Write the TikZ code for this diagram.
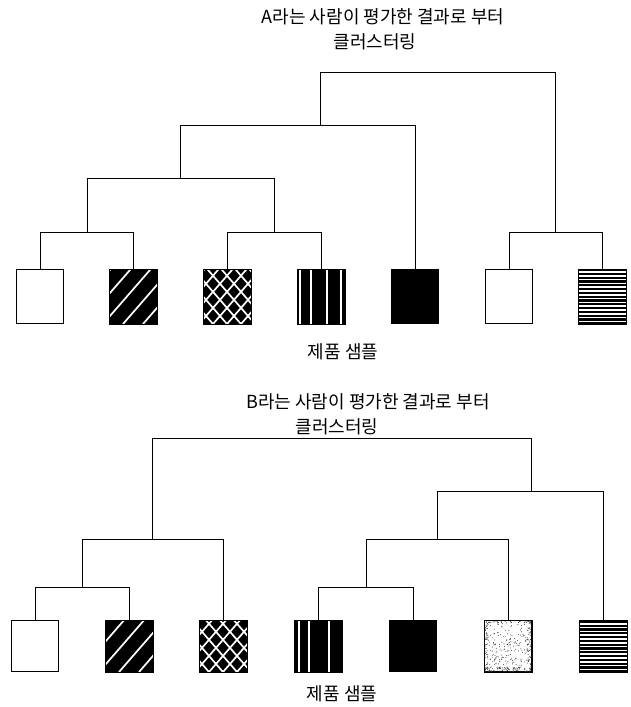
\documentclass[tikz,border=0pt]{standalone}
\usepackage{fontspec}
\setmainfont{Noto Sans CJK KR}
% Fill patterns, drawn inside a named sample box (local units: pt, y upwards)
\newcommand\boxpattern[2]{%
  \begin{scope}
    \clip (#1.south west) rectangle (#1.north east);
    \begin{scope}[shift={(#1.south west)},x=1pt,y=1pt]
      #2
    \end{scope}
  \end{scope}
  \draw[line width=1pt] (#1.south west) rectangle (#1.north east);}
\newcommand\diaglines{%
  \foreach \k in {-66,-46,...,54}
    \draw[white, line width=1.7pt] (\k,0) -- ++(60,69);}
\newcommand\crosslines{%
  \foreach \k in {-74,-60,...,124} {
    \draw[white, line width=1.7pt] (\k,0) -- ++(60,69);
    \draw[white, line width=1.7pt] (\k,0) -- ++(-60,69);
  }}
\newcommand\vlines[1]{%
  \foreach \k in {#1}
    \draw[white, line width=1.3pt] (\k,-2) -- (\k,60);}
\newcommand\hlines{%
  \foreach \k in {2.6,6.4,...,52}
    \draw[white, line width=1.5pt] (-2,\k) -- (50,\k);}
\newcommand\specks{%
  \pgfmathsetseed{11}
  \foreach \i in {1,...,240}
    \fill[black!75] ({rnd*47},{rnd*54}) circle (0.5);
  \foreach \i in {1,...,130}
    \fill[black!80] ({rnd*47},{(rnd<0.5 ? rnd*5 : 54-rnd*5)}) circle (0.5);
  \foreach \i in {1,...,90}
    \fill[black!80] ({(rnd<0.5 ? rnd*4 : 47-rnd*4)},{rnd*54}) circle (0.5);}
\begin{document}
\begin{tikzpicture}[x=1pt,y=-1pt,
  link/.style={line width=0.9pt, line cap=rect},
  title/.style={font=\fontsize{18}{22}\selectfont, inner sep=0pt, anchor=center},
  sample/.style={draw, line width=1pt, minimum width=47pt, minimum height=54pt,
    inner sep=0pt, anchor=north},
  lowsample/.style={minimum height=51pt},
  plainbox/.style={sample, fill=white},
  solidbox/.style={sample, fill=black}
]
\useasboundingbox (0,0) rectangle (630,707);

% ---------- upper dendrogram (rater A) ----------
\node[title] (titleA1) at (383,17) {A라는 사람이 평가한 결과로 부터};
\node[title] (titleA2) at (375,42) {클러스터링};

\node[plainbox] (a1) at (40,269)  {};
\node[solidbox] (a2) at (133,269) {};
\node[solidbox] (a3) at (227,269) {};
\node[solidbox] (a4) at (321,269) {};
\node[solidbox] (a5) at (415,269) {};
\node[plainbox] (a6) at (509,269) {};
\node[solidbox] (a7) at (602,269) {};
\boxpattern{a2}{\diaglines}
\boxpattern{a3}{\crosslines}
\boxpattern{a4}{\vlines{3,14,30,44}}
\boxpattern{a7}{\hlines}

\coordinate (a12)    at (87,232);
\coordinate (a34)    at (274,232);
\coordinate (a67)    at (555,232);
\coordinate (a1234)  at (180,178);
\coordinate (a12345) at (320,125);
\coordinate (aroot)  at (440,72);

\draw[link] (a1.north) |- (a12);   \draw[link] (a2.north) |- (a12);
\draw[link] (a3.north) |- (a34);   \draw[link] (a4.north) |- (a34);
\draw[link] (a6.north) |- (a67);   \draw[link] (a7.north) |- (a67);
\draw[link] (a12) |- (a1234);      \draw[link] (a34) |- (a1234);
\draw[link] (a1234) |- (a12345);   \draw[link] (a5.north) |- (a12345);
\draw[link] (a12345) |- (aroot);   \draw[link] (a67) |- (aroot);

\node[title] (labelA) at (343,352) {제품 샘플};

% ---------- lower dendrogram (rater B) ----------
\node[title] (titleB1) at (368,402) {B라는 사람이 평가한 결과로 부터};
\node[title] (titleB2) at (337,427) {클러스터링};

\node[plainbox, lowsample] (b1) at (35,620)  {};
\node[solidbox, lowsample] (b2) at (129,620) {};
\node[solidbox, lowsample] (b3) at (223,620) {};
\node[solidbox, lowsample] (b4) at (318,620) {};
\node[solidbox, lowsample] (b5) at (413,620) {};
\node[plainbox, lowsample] (b6) at (508,620) {};
\node[solidbox, lowsample] (b7) at (603,620) {};
\boxpattern{b2}{\diaglines}
\boxpattern{b3}{\crosslines}
\boxpattern{b4}{\vlines{5,15,35}}
\boxpattern{b6}{\specks}
\boxpattern{b7}{\hlines}

\coordinate (b12)    at (82,587);
\coordinate (b123)   at (152,539);
\coordinate (b45)    at (366,587);
\coordinate (b456)   at (437,539);
\coordinate (b4567)  at (531,491);
\coordinate (broot)  at (340,438);

\draw[link] (b1.north) |- (b12);   \draw[link] (b2.north) |- (b12);
\draw[link] (b12) |- (b123);       \draw[link] (b3.north) |- (b123);
\draw[link] (b4.north) |- (b45);   \draw[link] (b5.north) |- (b45);
\draw[link] (b45) |- (b456);       \draw[link] (b6.north) |- (b456);
\draw[link] (b456) |- (b4567);     \draw[link] (b7.north) |- (b4567);
\draw[link] (b123) |- (broot);     \draw[link] (b4567) |- (broot);

\node[title] (labelB) at (342,694) {제품 샘플};
\end{tikzpicture}
\end{document}
